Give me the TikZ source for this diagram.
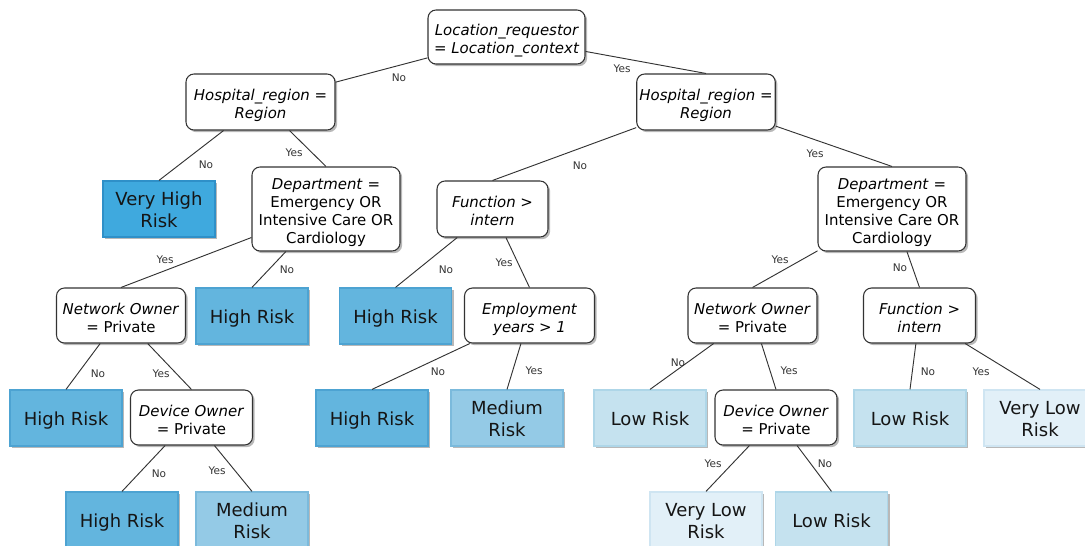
\documentclass[tikz,border=0pt]{standalone}
\usepackage{fontspec}
\setmainfont{DejaVu Sans}
\usetikzlibrary{shadows}

\definecolor{vhfill}{HTML}{3FA9DE}\definecolor{vhline}{HTML}{2F90C8}
\definecolor{hifill}{HTML}{63B5DE}\definecolor{hiline}{HTML}{4DA3D2}
\definecolor{mefill}{HTML}{94CAE6}\definecolor{meline}{HTML}{7BBADC}
\definecolor{lofill}{HTML}{C5E2EF}\definecolor{loline}{HTML}{AED6E8}
\definecolor{vlfill}{HTML}{E2F0F8}\definecolor{vlline}{HTML}{CFE5F2}
\definecolor{edgecol}{HTML}{333333}
\definecolor{leaftext}{HTML}{151515}

% centred stack of lines, lowered by #1, taking no vertical room
\newcommand\stackedtext[2]{\raisebox{#1}[0pt][0pt]{\begin{tabular}[c]{@{}c@{}}#2\end{tabular}}}
\newcommand\dtext[1]{\stackedtext{-5.7pt}{#1}}
\newcommand\ltext[1]{\stackedtext{-6.1pt}{#1}}

\tikzset{
  shade box/.style={drop shadow={shadow xshift=1.6pt,shadow yshift=-1.6pt,fill=black,opacity=0.28}},
  dec/.style={shade box,draw=edgecol,line width=0.8pt,fill=white,rounded corners=6pt,
    inner sep=2pt,font=\fontsize{11.2}{13.6}\selectfont},
  leaf/.style={shade box,line width=0.9pt,minimum width=84pt,minimum height=42pt,
    inner sep=1pt,text=leaftext,font=\fontsize{13.5}{16.5}\selectfont},
  vhigh/.style={leaf,fill=vhfill,draw=vhline},
  high/.style={leaf,fill=hifill,draw=hiline},
  medium/.style={leaf,fill=mefill,draw=meline},
  low/.style={leaf,fill=lofill,draw=loline},
  vlow/.style={leaf,fill=vlfill,draw=vlline},
  branch/.style={draw=edgecol,line width=0.7pt},
  lbl/.style={text=edgecol,inner sep=0pt,font=\fontsize{7.9}{9}\selectfont},
}

\begin{document}
\begin{tikzpicture}[x=0.75pt,y=-0.75pt]
\useasboundingbox (0,0) rectangle (1085,546);
\clip (0,0) rectangle (1085,546);

% decision nodes
\node[dec,minimum width=117.75pt,minimum height=40.5pt] (root) at (506.5,37)
  {\dtext{\itshape Location\_requestor\\\itshape = Location\_context}};
\node[dec,minimum width=111.75pt,minimum height=42pt] (hospL) at (260.5,102)
  {\dtext{\itshape Hospital\_region =\\\itshape Region}};
\node[dec,minimum width=103.5pt,minimum height=42pt] (hospR) at (706,102)
  {\dtext{\itshape Hospital\_region =\\\itshape Region}};
\node[dec,minimum width=111pt,minimum height=63pt] (deptL) at (326,209)
  {\dtext{\textit{Department} =\\Emergency OR\\Intensive Care OR\\Cardiology}};
\node[dec,minimum width=83.25pt,minimum height=42pt] (funcM) at (492.5,209)
  {\dtext{\itshape Function >\\\itshape intern}};
\node[dec,minimum width=111pt,minimum height=63pt] (deptR) at (892,209)
  {\dtext{\textit{Department} =\\Emergency OR\\Intensive Care OR\\Cardiology}};
\node[dec,minimum width=96.75pt,minimum height=41.25pt] (netL) at (121,315.5)
  {\dtext{\textit{Network Owner}\\= Private}};
\node[dec,minimum width=97.5pt,minimum height=41.25pt] (empM) at (529.5,315.5)
  {\dtext{\itshape Employment\\\itshape years > 1}};
\node[dec,minimum width=96.75pt,minimum height=41.25pt] (netR) at (752.5,315.5)
  {\dtext{\textit{Network Owner}\\= Private}};
\node[dec,minimum width=84pt,minimum height=41.25pt] (funcR) at (919.5,315.5)
  {\dtext{\itshape Function >\\\itshape intern}};
\node[dec,minimum width=91.5pt,minimum height=41.25pt] (devL) at (191.5,417.5)
  {\dtext{\textit{Device Owner}\\= Private}};
\node[dec,minimum width=91.5pt,minimum height=41.25pt] (devR) at (776,417.5)
  {\dtext{\textit{Device Owner}\\= Private}};

% risk outcomes
\node[vhigh]  (vhr)  at (159,209)   {\ltext{Very High\\Risk}};
\node[high]   (hr1)  at (252,316)   {\ltext{High Risk}};
\node[high]   (hr2)  at (395.5,316) {\ltext{High Risk}};
\node[high]   (hr3)  at (66,418)    {\ltext{High Risk}};
\node[high]   (hr4)  at (372,418)   {\ltext{High Risk}};
\node[medium] (mr1)  at (507,418)   {\ltext{Medium\\Risk}};
\node[low]    (lr1)  at (650,418)   {\ltext{Low Risk}};
\node[low]    (lr2)  at (910,418)   {\ltext{Low Risk}};
\node[vlow]   (vlr1) at (1040,418)  {\ltext{Very Low\\Risk}};
\node[high]   (hr5)  at (122,520)   {\ltext{High Risk}};
\node[medium] (mr2)  at (252,520)   {\ltext{Medium\\Risk}};
\node[vlow]   (vlr2) at (706,520)   {\ltext{Very Low\\Risk}};
\node[low]    (lr3)  at (831.5,520) {\ltext{Low Risk}};

% branches
\draw[branch] (root) -- (hospL);
\draw[branch] (root) -- (hospR.north);
\draw[branch] (hospL) -- (vhr.north);
\draw[branch] (hospL) -- (deptL.north);
\draw[branch] (hospR) -- (funcM.north);
\draw[branch] (hospR) -- (deptR.north);
\draw[branch] (deptL) -- (netL.north);
\draw[branch] (deptL) -- (hr1.north);
\draw[branch] (funcM) -- (hr2.north);
\draw[branch] (funcM) -- (empM.north);
\draw[branch] (deptR) -- (netR.north);
\draw[branch] (deptR) -- (funcR.north);
\draw[branch] (netL) -- (hr3.north);
\draw[branch] (netL) -- (devL.north);
\draw[branch] (empM) -- (hr4.north);
\draw[branch] (empM) -- (mr1.north);
\draw[branch] (netR) -- (lr1.north);
\draw[branch] (netR) -- (devR.north);
\draw[branch] (funcR) -- (lr2.north);
\draw[branch] (funcR) -- (vlr1.north);
\draw[branch] (devL) -- (hr5.north);
\draw[branch] (devL) -- (mr2.north);
\draw[branch] (devR) -- (vlr2.north);
\draw[branch] (devR) -- (lr3.north);

% branch labels
\node[lbl] (l1)  at (399,78)  {No};
\node[lbl] (l2)  at (622,69)  {Yes};
\node[lbl] (l3)  at (206,165) {No};
\node[lbl] (l4)  at (294,153) {Yes};
\node[lbl] (l5)  at (580,166) {No};
\node[lbl] (l6)  at (815,154) {Yes};
\node[lbl] (l7)  at (165,260) {Yes};
\node[lbl] (l8)  at (287,270) {No};
\node[lbl] (l9)  at (446,270) {No};
\node[lbl] (l10) at (504,263) {Yes};
\node[lbl] (l11) at (780,260) {Yes};
\node[lbl] (l12) at (900,268) {No};
\node[lbl] (l13) at (98,374)  {No};
\node[lbl] (l14) at (161,374) {Yes};
\node[lbl] (l15) at (438,372) {No};
\node[lbl] (l16) at (534,371) {Yes};
\node[lbl] (l17) at (678,363) {No};
\node[lbl] (l18) at (789,371) {Yes};
\node[lbl] (l19) at (928,372) {No};
\node[lbl] (l20) at (981,372) {Yes};
\node[lbl] (l21) at (159,474) {No};
\node[lbl] (l22) at (217,471) {Yes};
\node[lbl] (l23) at (713,464) {Yes};
\node[lbl] (l24) at (825,464) {No};
\end{tikzpicture}
\end{document}
